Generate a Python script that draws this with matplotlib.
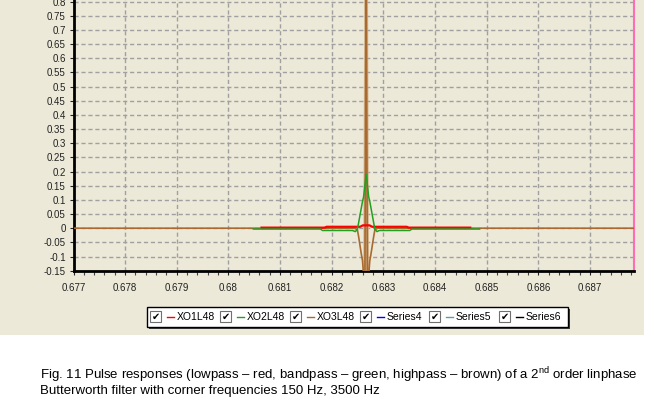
import numpy as np
import matplotlib
matplotlib.use("Agg")
import matplotlib.pyplot as plt
from matplotlib.patches import Rectangle
from matplotlib.lines import Line2D

plt.rcParams['font.family'] = ['Liberation Sans', 'DejaVu Sans']
plt.rcParams['mathtext.fontset'] = 'custom'
plt.rcParams['mathtext.rm'] = 'Liberation Sans'

# ---------------- data ----------------
x_min, x_max = 0.677, 0.68785
y_min, y_max = -0.15, 0.8053
x_ticks = [0.677, 0.678, 0.679, 0.68, 0.681, 0.682, 0.683, 0.684, 0.685, 0.686, 0.687]
x_tick_labels = ["0.677", "0.678", "0.679", "0.68", "0.681", "0.682", "0.683",
                 "0.684", "0.685", "0.686", "0.687"]
y_ticks = [-0.15, -0.1, -0.05, 0, 0.05, 0.1, 0.15, 0.2, 0.25, 0.3, 0.35, 0.4,
           0.45, 0.5, 0.55, 0.6, 0.65, 0.7, 0.75, 0.8]
y_tick_labels = ["-0.15", "-0.1", "-0.05", "0", "0.05", "0.1", "0.15", "0.2", "0.25",
                 "0.3", "0.35", "0.4", "0.45", "0.5", "0.55", "0.6", "0.65", "0.7",
                 "0.75", "0.8"]

# lowpass (red)
lp_t = [0.68064, 0.68186, 0.68190, 0.68255, 0.68260, 0.68273, 0.68278, 0.68345, 0.68349, 0.68468]
lp_v = [0.002, 0.002, 0.005, 0.005, 0.010, 0.010, 0.005, 0.005, 0.002, 0.002]

# bandpass (green)
bp_t = [0.68048, 0.68178, 0.68182, 0.68240, 0.682455, 0.682495, 0.682515, 0.682535,
        0.682555, 0.682575, 0.682595, 0.682615, 0.682640, 0.682665, 0.682690,
        0.682715, 0.682735, 0.682755, 0.682775, 0.682795, 0.682815, 0.682835,
        0.682875, 0.68292, 0.68351, 0.68355, 0.68486]
bp_v = [-0.003, -0.003, -0.008, -0.008, -0.012, -0.004, 0.015, 0.035, 0.055, 0.075,
        0.095, 0.110, 0.150, 0.190, 0.150, 0.110, 0.095, 0.075, 0.055, 0.035, 0.015,
        -0.004, -0.012, -0.008, -0.008, -0.003, -0.003]

# highpass (brown)
hp_t = [0.677, 0.68244, 0.682495, 0.682515, 0.682535, 0.682555, 0.682575, 0.682595,
        0.682615, 0.682640, 0.682665, 0.682690, 0.682715, 0.682735, 0.682755,
        0.682775, 0.682795, 0.682815, 0.682835, 0.68289, 0.68785]
hp_v = [0.0, 0.0, -0.005, -0.025, -0.048, -0.072, -0.095, -0.115, -0.165, -0.23, 0.98,
        -0.23, -0.165, -0.115, -0.095, -0.072, -0.048, -0.025, -0.005, 0.0, 0.0]

series_names = ["XO1L48", "XO2L48", "XO3L48", "Series4", "Series5", "Series6"]
series_colors = ["#FF0000", "#22A022", "#A86A30", "#0000FF", "#5F9EA0", "#000000"]

caption1 = "Fig. 11 Pulse responses (lowpass \u2013 red, bandpass \u2013 green, highpass \u2013 brown) of a 2$^{\\rm nd}$ order linphase"
caption2 = "Butterworth filter with corner frequencies 150 Hz, 3500 Hz"

# ---------------- figure ----------------
W, H = 668, 415
fig = plt.figure(figsize=(W / 100, H / 100), dpi=100)
fig.patch.set_facecolor("white")
bg = "#ECE9D8"

def fx(px):
    return px / W

def fy(py):
    return 1 - py / H

fig.add_artist(Rectangle((0, fy(335)), fx(644), 1 - fy(335), transform=fig.transFigure,
                         facecolor=bg, edgecolor="none", zorder=0))

ax = fig.add_axes([fx(73.5), fy(270.7), fx(634) - fx(73.5), 1 - fy(270.7)])
ax.set_facecolor(bg)
ax.set_xlim(x_min, x_max)
ax.set_ylim(y_min, y_max)

ax.set_xticks(x_ticks)
ax.set_xticklabels(x_tick_labels)
ax.set_xticks(np.arange(0.677, 0.6879, 0.0002), minor=True)
ax.set_yticks(y_ticks)
ax.set_yticklabels(y_tick_labels)
ax.tick_params(axis='x', which='major', length=3, width=0.8, pad=6, labelsize=7, colors="#222222")
ax.tick_params(axis='x', which='minor', length=3, width=0.8, colors="#444444")
ax.tick_params(axis='y', which='major', length=3, width=0.8, pad=2.5, labelsize=7, colors="#222222")

ax.grid(True, which='major', color="#A0A0A0", linestyle=(0, (3, 2)), linewidth=1.0)
ax.set_axisbelow(True)

ax.spines["top"].set_visible(False)
ax.spines["left"].set_linewidth(2)
ax.spines["bottom"].set_linewidth(2)
ax.spines["left"].set_color("black")
ax.spines["bottom"].set_color("black")
ax.spines["right"].set_color("#FF6EB4")
ax.spines["right"].set_linewidth(1.5)

ax.plot(hp_t, hp_v, color="#A86A30", lw=1.2, zorder=3, solid_joinstyle='miter')
ax.plot(hp_t[8:13], hp_v[8:13], color="#D0AC80", lw=2.5, alpha=0.8, zorder=2.9)
ax.plot(lp_t, lp_v, color="#FF0000", lw=1.6, zorder=4)
ax.plot(bp_t, bp_v, color="#22A022", lw=1.1, zorder=5)

# ---------------- legend ----------------
fig.add_artist(Rectangle((fx(149), fy(329)), fx(568) - fx(147), fy(307) - fy(327),
                         transform=fig.transFigure, facecolor="#404040",
                         edgecolor="none", zorder=5))
fig.add_artist(Rectangle((fx(147), fy(327)), fx(568) - fx(147), fy(307) - fy(327),
                         transform=fig.transFigure, facecolor="white",
                         edgecolor="black", linewidth=1, zorder=6))
cb_x = [150, 220, 290, 360, 429, 499]
for i, name in enumerate(series_names):
    x0 = cb_x[i]
    fig.add_artist(Rectangle((fx(x0), fy(322)), fx(11), fy(311) - fy(322),
                             transform=fig.transFigure, facecolor="white",
                             edgecolor="#707070", linewidth=0.8, zorder=7))
    fig.text(fx(x0 + 5.5), fy(316.5), "\u2714", family="DejaVu Sans", fontsize=7,
             ha="center", va="center", color="black", zorder=8)
    fig.add_artist(Line2D([fx(x0 + 17), fx(x0 + 24)], [fy(316.7), fy(316.7)],
                          transform=fig.transFigure, color=series_colors[i],
                          linewidth=1, zorder=8))
    fig.text(fx(x0 + 27), fy(316.7), name, fontsize=7.5, ha="left", va="center",
             color="black", zorder=8)

# ---------------- caption ----------------
fig.text(fx(40), fy(379), caption1, fontsize=9.5, ha="left", va="baseline", color="black")
fig.text(fx(40), fy(394), caption2, fontsize=9.5, ha="left", va="baseline", color="black")

fig.savefig("out.png", dpi=100, facecolor="white")
